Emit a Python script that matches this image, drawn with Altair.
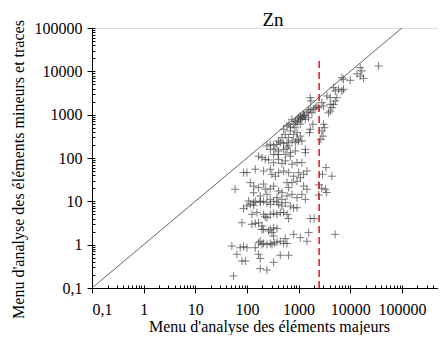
import altair as alt
import pandas as pd

# ---- data (Zn) ----
x_vals = [
    35400, 15600, 16800, 13500, 15600, 18100, 10000, 7400, 6900, 4750, 5130, 5960, 6900, 7400,
    3540, 4100, 5500, 5130, 2830, 3050, 4100, 4410, 4750, 4100, 3800,
    1680, 1730, 2440, 1250, 1450, 1560, 1680, 1810, 1950, 2100, 2260, 1000, 1080, 1160, 1350,
    1560, 745, 802, 931, 1080, 1890, 1680, 1620, 3050, 3160, 2830, 2970, 2700, 513, 596, 691,
    553, 476, 642, 802, 931, 1080, 931, 745, 1160, 410, 442, 381, 513,
    870, 960, 1200, 1300, 1100, 700, 650, 850,
    244, 283, 328, 596, 642, 866, 1000, 1350, 1350, 283, 328, 410, 513, 691, 866, 168, 195, 226,
    262, 328, 410, 476, 553, 745, 931, 1160, 86, 100, 145, 210, 283, 305, 354, 410, 513, 642,
    802, 1000, 1250, 1450, 59, 116, 135, 168, 210, 226, 283, 328, 410, 476, 596, 642, 745, 931,
    1080, 1250, 1450, 135, 181, 244, 283, 381, 476, 596, 745, 931, 1160, 1350, 108, 135, 181, 244,
    553, 691, 400, 350, 600,
    3400, 2900, 4400, 2440, 2800, 3300, 3500, 2440,
    86, 100, 116, 135, 145, 181, 210, 283, 328, 381, 410, 475, 553, 690, 800, 930,
    125, 156, 210, 225, 244, 283, 328, 381, 442, 513, 596,
    80, 125, 145, 168, 195, 210, 262, 305, 283, 328, 381, 640, 1680, 2000,
    51, 74, 86, 100, 145, 195, 168, 181, 210, 244, 283, 305, 339, 381, 442, 513, 596, 553, 802,
    1080, 1450, 1570, 328, 195, 64, 80, 93, 168, 181, 442, 640, 328, 181, 244, 55, 5100,
]
y_vals = [
    13300, 12150, 10200, 8800, 7800, 6900, 6200, 6550, 7150, 4200, 3520, 3850, 3520, 3850,
    2700, 2470, 2470, 2070, 1890, 1580, 1730, 1450, 1730, 1215, 1100,
    2470, 2070, 1450, 1020, 1110, 1215, 1330, 1110, 1330, 1450, 1580, 850, 930, 780, 780,
    850, 780, 600, 650, 600, 600, 460, 385, 600, 500, 420, 320, 270, 460, 550, 420,
    350, 295, 295, 350, 385, 320, 270, 247, 247, 247, 227, 207, 215,
    700, 720, 900, 950, 820, 520, 600, 500,
    190, 207, 198, 227, 190, 227, 247, 158, 133, 158, 121, 145, 158, 133, 145, 110, 102, 93,
    90, 78, 93, 75, 86, 72, 78, 78, 46, 46, 55, 50, 55, 42, 38, 46, 50, 46,
    38, 46, 42, 50, 19, 27, 22.4, 20.7, 25, 19, 19.5, 22.4, 17.3, 15.8, 27, 20.7, 27, 29,
    35, 22.4, 19, 15.8, 13.3, 14.5, 11.1, 12.2, 11.1, 13.3, 14.5, 12.2, 14.5, 11.1, 10.2, 9.3, 9.6, 9.3,
    121, 110, 120, 160, 170,
    60, 42, 38, 24, 20, 19, 16, 14,
    6.8, 7.8, 8.5, 8.1, 10, 10, 10, 8.5, 10, 9.6, 8.5, 7.8, 9.3, 7.8, 7.1, 7.1,
    5.0, 5.5, 5.0, 4.4, 4.2, 5.0, 5.3, 5.0, 5.5, 5.5, 5.0,
    3.2, 2.95, 3.1, 3.2, 2.7, 2.25, 2.07, 1.9, 2.25, 2.45, 2.35, 4.0, 4.0, 4.0,
    0.93, 0.85, 0.9, 0.85, 0.85, 1.0, 1.1, 1.2, 1.07, 1.02, 1.07, 1.0, 1.1, 1.15, 1.2, 1.07, 1.07, 1.38, 1.73,
    1.45, 1.2, 1.9, 1.58, 2.25, 0.6, 0.42, 0.42, 0.6, 0.48, 0.57, 0.57, 0.39, 0.28, 0.26, 0.19, 1.73,
]

diag_x = [0.1, 100000]
diag_y = [0.1, 100000]
limit_x = [2500]
limit_y = [0.1]
limit_y2 = [20000]

x_major = [0.1, 1, 10, 100, 1000, 10000, 100000]
y_major = [0.1, 1, 10, 100, 1000, 10000, 100000]

title_text = ["Zn"]
x_title = "Menu d'analyse des éléments majeurs"
y_title = "Menu d'analyse des éléments mineurs et traces"

FONT = "Liberation Serif"

x_minor = [m * d for d in [0.1, 1, 10, 100, 1000, 10000, 100000] for m in range(1, 10) if m * d <= 500000]
y_minor = [m * d for d in [0.1, 1, 10, 100, 1000, 10000] for m in range(1, 10)] + [100000]

pts = pd.DataFrame({"x": x_vals, "y": y_vals})
diag = pd.DataFrame({"x": diag_x, "y": diag_y})
lim = pd.DataFrame({"x": limit_x, "y": limit_y, "y2": limit_y2})
ttl = pd.DataFrame({"t": title_text})

xscale = alt.Scale(type="log", domain=[0.1, 500000], nice=False)
yscale = alt.Scale(type="log", domain=[0.1, 100000], nice=False)

label_expr = "datum.value < 1 ? '0,1' : format(datum.value, 'd')"

x_axis_major = alt.Axis(
    orient="bottom", values=x_major, labelExpr=label_expr, grid=False,
    tickSize=5, labelPadding=8, labelFontSize=16, labelFont=FONT, labelColor="black",
    domainColor="black", tickColor="black", title=x_title, titleFont=FONT,
    titleFontSize=16, titleFontWeight="normal", titleColor="black",
    titleX=177, titleY=43.5, titleBaseline="alphabetic", titleAlign="center",
)
y_axis_major = alt.Axis(
    orient="left", values=y_major, labelExpr=label_expr, grid=False,
    tickSize=5, labelPadding=5, labelFontSize=16, labelFont=FONT, labelColor="black",
    domainColor="black", tickColor="black", title=y_title, titleFont=FONT,
    titleFontSize=16, titleFontWeight="normal", titleColor="black",
    titleX=-68.4, titleY=141, titleBaseline="alphabetic", titleAlign="center", titleAngle=270,
)
x_axis_minor = alt.Axis(
    orient="bottom", values=x_minor, labels=False, domain=False, grid=False,
    tickSize=3, offset=-3, tickColor="black", title=None,
)
y_axis_minor = alt.Axis(
    orient="left", values=y_minor, labels=False, domain=False, grid=False,
    tickSize=3, offset=-3, tickColor="black", title=None,
)

diag_layer = alt.Chart(diag).mark_line(color="#555555", strokeWidth=0.9).encode(
    x=alt.X("x:Q", scale=xscale, axis=x_axis_minor),
    y=alt.Y("y:Q", scale=yscale, axis=y_axis_minor),
)

limit_layer = alt.Chart(lim).mark_rule(color="#e8202a", strokeWidth=1.6, strokeDash=[7, 4]).encode(
    x=alt.X("x:Q", scale=xscale, axis=None),
    y=alt.Y("y:Q", scale=yscale, axis=None),
    y2="y2:Q",
)

point_layer = alt.Chart(pts).mark_point(
    shape="M-1,0H1M0,-1V1", filled=False, size=64, stroke="#333333",
    strokeWidth=1, opacity=0.65,
).encode(
    x=alt.X("x:Q", scale=xscale, axis=x_axis_major),
    y=alt.Y("y:Q", scale=yscale, axis=y_axis_major),
)

title_layer = alt.Chart(ttl).mark_text(
    font=FONT, fontSize=19, color="black", align="center", baseline="alphabetic",
).encode(
    text="t:N",
    x=alt.value(181),
    y=alt.value(-2.5),
)

chart = alt.layer(point_layer, diag_layer, limit_layer, title_layer).resolve_axis(
    x="independent", y="independent"
).properties(
    width=346,
    height=260,
    autosize="none",
    padding={"left": 84, "top": 20, "right": 0, "bottom": 47},
).configure_view(stroke=None).configure(background="white")

chart.save("out.html", embed_options={"renderer": "svg", "actions": False})
